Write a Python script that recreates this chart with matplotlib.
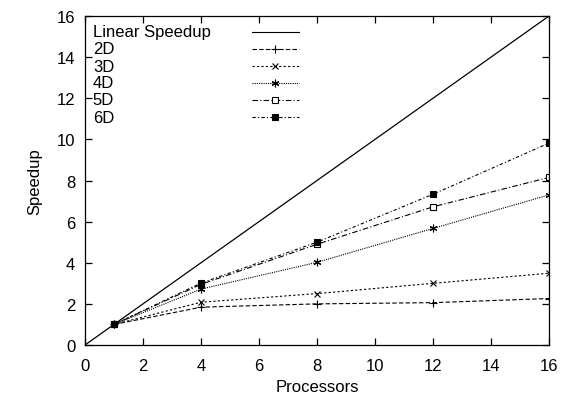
import matplotlib
matplotlib.use("Agg")
import matplotlib.pyplot as plt

plt.rcParams['font.family'] = ['Liberation Sans', 'DejaVu Sans']

# data
procs = [1, 4, 8, 12, 16]
linear_x = [0, 16]
linear_y = [0, 16]
speedup_2d = [1.0, 1.84, 2.0, 2.06, 2.26]
speedup_3d = [1.0, 2.08, 2.5, 3.0, 3.49]
speedup_4d = [1.0, 2.72, 4.02, 5.67, 7.3]
speedup_5d = [1.0, 2.95, 4.9, 6.72, 8.15]
speedup_6d = [1.0, 3.01, 5.0, 7.33, 9.82]
labels = ['Linear Speedup', '2D', '3D', '4D', '5D', '6D']

series = [speedup_2d, speedup_3d, speedup_4d, speedup_5d, speedup_6d]
styles = [
    dict(marker='+', ls=(0, (4, 2)), ms=5.5, mew=0.8),
    dict(marker='x', ls=(0, (2, 2)), ms=4.5, mew=0.8),
    dict(marker=(6, 2, 0), ls=(0, (1, 1)), ms=5.5, mew=0.8),
    dict(marker='s', ls=(0, (5, 2, 1, 2)), ms=4.5, mew=0.8, mfc='white'),
    dict(marker='s', ls=(0, (3, 2, 1, 2)), ms=5, mew=0.8, mfc='black'),
]

fig = plt.figure(figsize=(5.72, 4.02), dpi=100)
ax = fig.add_axes([0.1486, 0.1393, 0.8112, 0.8184])

ax.plot(linear_x, linear_y, color='black', lw=0.9)
for ys, st in zip(series, styles):
    ax.plot(procs, ys, color='black', lw=0.8, **st)

ax.set_xlim(0, 16)
ax.set_ylim(0, 16)
ax.set_xticks(range(0, 17, 2))
ax.set_yticks(range(0, 17, 2))
ax.tick_params(direction='in', top=True, right=True, length=5, width=0.9,
               labelsize=12, pad=7)
ax.tick_params(axis='x', pad=9)
for sp in ax.spines.values():
    sp.set_linewidth(0.9)
ax.set_xlabel('Processors', fontsize=12, labelpad=5)
ax.set_ylabel('Speedup', fontsize=12, labelpad=10)

# gnuplot-style key: text on the left, sample on the right
row_y = [0.952, 0.900, 0.848, 0.797, 0.745, 0.693]
all_styles = [dict(marker='', ls='-', ms=0, mew=0)] + styles
for lab, yy, st in zip(labels, row_y, all_styles):
    ax.text(0.017, yy, lab, transform=ax.transAxes, fontsize=12,
            va='center', ha='left')
    ax.plot([0.359, 0.461], [yy, yy], transform=ax.transAxes, color='black',
            lw=0.8, ls=st['ls'], clip_on=False)
    if st['marker']:
        kw = {k: v for k, v in st.items() if k != 'ls'}
        ax.plot([0.41], [yy], transform=ax.transAxes, color='black', ls='none', **kw)

fig.savefig('out.png', dpi=100)
